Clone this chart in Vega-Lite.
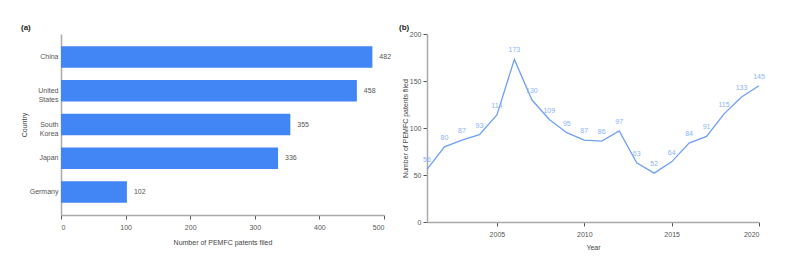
{
  "$schema": "https://vega.github.io/schema/vega-lite/v6.json",
  "background": "white",
  "padding": {"left": 20, "top": 24, "right": 5, "bottom": 5},
  "spacing": 7,
  "config": {
    "font": "Liberation Sans",
    "view": {"stroke": null},
    "axis": {
      "labelFont": "Liberation Sans", "titleFont": "Liberation Sans",
      "labelFontSize": 7, "titleFontSize": 7, "titleFontWeight": "normal",
      "labelColor": "#555", "titleColor": "#444",
      "domainColor": "#aaa", "domainWidth": 1.5,
      "tickColor": "#555", "tickSize": 4, "grid": false
    },
    "title": {"font": "Liberation Sans", "fontSize": 8, "fontWeight": "bold", "color": "#222"}
  },
  "datasets": {
    "countries": [
      {"country": "China", "patents": 482},
      {"country": "United States", "patents": 458},
      {"country": "South Korea", "patents": 355},
      {"country": "Japan", "patents": 336},
      {"country": "Germany", "patents": 102}
    ],
    "years": [
      {"year": 2001, "patents": 56},
      {"year": 2002, "patents": 80},
      {"year": 2003, "patents": 87},
      {"year": 2004, "patents": 93},
      {"year": 2005, "patents": 114},
      {"year": 2006, "patents": 173},
      {"year": 2007, "patents": 130},
      {"year": 2008, "patents": 109},
      {"year": 2009, "patents": 95},
      {"year": 2010, "patents": 87},
      {"year": 2011, "patents": 86},
      {"year": 2012, "patents": 97},
      {"year": 2013, "patents": 63},
      {"year": 2014, "patents": 52},
      {"year": 2015, "patents": 64},
      {"year": 2016, "patents": 84},
      {"year": 2017, "patents": 91},
      {"year": 2018, "patents": 115},
      {"year": 2019, "patents": 133},
      {"year": 2020, "patents": 145}
    ]
  },
  "hconcat": [
    {
      "width": 323,
      "height": 181,
      "title": {"text": "(a)", "anchor": "start", "frame": "group", "dx": -40, "offset": 2},
      "data": {"name": "countries"},
      "encoding": {
        "y": {
          "field": "country", "type": "nominal", "sort": null,
          "scale": {"paddingInner": 0.36, "paddingOuter": 0.36},
          "axis": {"title": "Country", "ticks": false, "labelExpr": "split(datum.label, ' ')", "labelPadding": 3, "titlePadding": 2}
        },
        "x": {
          "field": "patents", "type": "quantitative",
          "scale": {"domain": [0, 500]},
          "axis": {"title": "Number of PEMFC patents filed", "values": [0, 100, 200, 300, 400, 500], "labelPadding": 4, "titlePadding": 8}
        }
      },
      "layer": [
        {"mark": {"type": "bar", "color": "#4285f4"}},
        {"mark": {"type": "text", "align": "left", "dx": 7, "fontSize": 7, "color": "#555"}, "encoding": {"text": {"field": "patents"}}}
      ]
    },
    {
      "width": 332,
      "height": 188,
      "title": {"text": "(b)", "anchor": "start", "frame": "group", "dx": -28, "offset": -2},
      "data": {"name": "years"},
      "encoding": {
        "x": {
          "field": "year", "type": "quantitative",
          "scale": {"domain": [2001, 2020], "nice": false, "zero": false},
          "axis": {"title": "Year", "values": [2005, 2010, 2015, 2020], "format": "d", "labelPadding": 4, "titlePadding": 6}
        },
        "y": {
          "field": "patents", "type": "quantitative",
          "scale": {"domain": [0, 200]},
          "axis": {"title": "Number of PEMFC patents filed", "values": [0, 50, 100, 150, 200], "titlePadding": 1}
        }
      },
      "layer": [
        {"mark": {"type": "line", "color": "#6fa0f5", "strokeWidth": 1.3}},
        {"mark": {"type": "text", "dy": -9, "fontSize": 7, "color": "#8ab4f8"}, "encoding": {"text": {"field": "patents"}}}
      ]
    }
  ]
}
